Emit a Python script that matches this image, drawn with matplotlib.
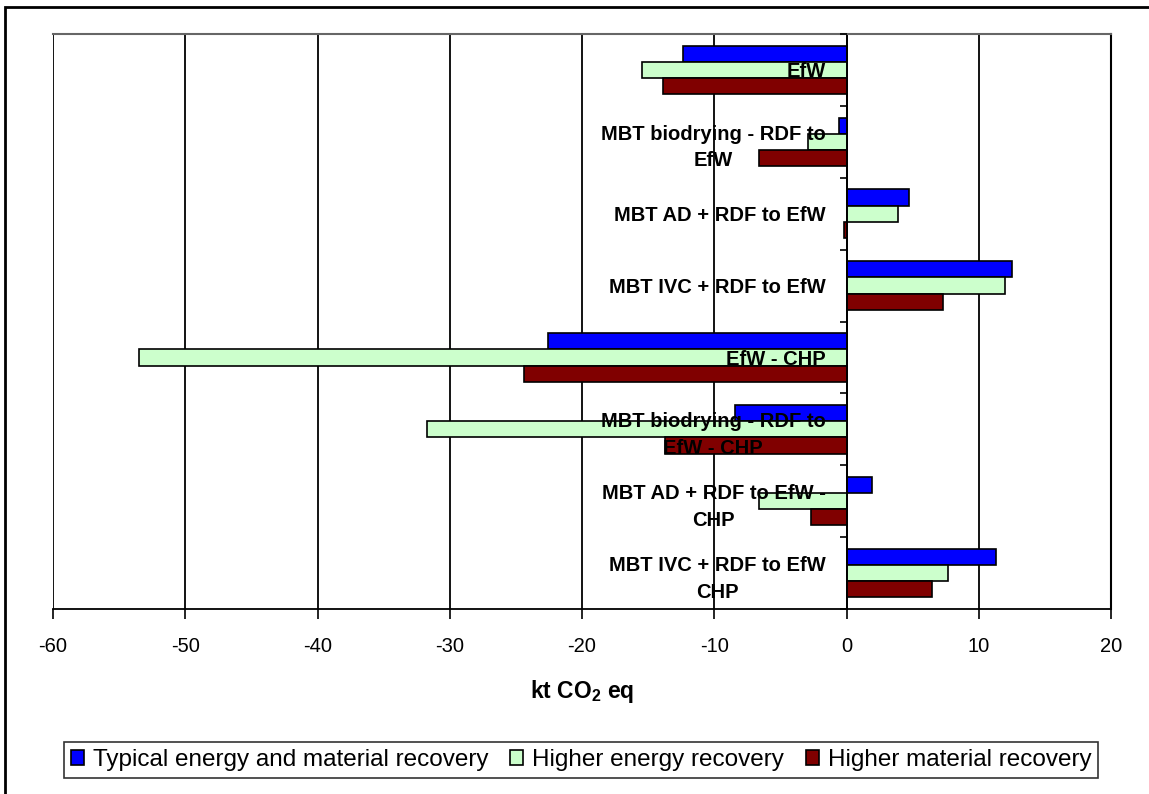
import matplotlib
matplotlib.use('Agg')
import matplotlib.pyplot as plt
import numpy as np
from matplotlib.patches import Rectangle

plt.rcParams['font.family'] = ['Liberation Sans', 'DejaVu Sans']
plt.rcParams['mathtext.fontset'] = 'custom'
plt.rcParams['mathtext.rm'] = 'Liberation Sans:bold'
plt.rcParams['mathtext.bf'] = 'Liberation Sans:bold'
plt.rcParams['axes.unicode_minus'] = False

categories = [
    "EfW",
    "MBT biodrying - RDF to\nEfW",
    "MBT AD + RDF to EfW",
    "MBT IVC + RDF to EfW",
    "EfW - CHP",
    "MBT biodrying - RDF to\nEfW - CHP",
    "MBT AD + RDF to EfW -\nCHP",
    "MBT IVC + RDF to EfW\nCHP",
]
typical = [-12.4, -0.6, 4.75, 12.5, -22.6, -8.4, 1.9, 11.3]
higher_energy = [-15.5, -2.9, 3.9, 12.0, -53.5, -31.7, -6.6, 7.7]
higher_material = [-13.9, -6.6, -0.2, 7.3, -24.4, -13.7, -2.7, 6.5]

series = [
    ("Typical energy and material recovery", typical, "#0000FF"),
    ("Higher energy recovery", higher_energy, "#CCFFCC"),
    ("Higher material recovery", higher_material, "#800000"),
]
xticks = list(range(-60, 21, 10))

fig = plt.figure(figsize=(11.49, 7.94), dpi=100)
ax = fig.add_axes([53 / 1149, 1 - 609 / 794, (1111 - 53) / 1149, (609 - 34) / 794])
ax.set_axisbelow(False)

y = np.arange(len(categories))
h = 0.225
for k, (name, vals, col) in enumerate(series):
    ax.barh(y + (k - 1) * h, vals, height=h, color=col, edgecolor='black',
            linewidth=1.2, label=name, zorder=2)

# vertical gridlines under the bars
for xv in xticks:
    ax.axvline(xv, color='black', linewidth=1.3, zorder=0.5)

ax.set_xlim(-60, 20)
ax.set_ylim(len(categories) - 0.5, -0.5)
ax.set_xticks(xticks)
ax.tick_params(axis='x', direction='out', length=7, width=1.2, pad=13,
               labelsize=14.5)

ax.spines['left'].set_position(('data', 0))
ax.spines['left'].set_linewidth(1.3)
ax.spines['right'].set_linewidth(1.5)
ax.spines['top'].set_color('#666666')
ax.spines['top'].set_linewidth(1.5)
ax.spines['bottom'].set_linewidth(1.3)

ax.set_yticks(y)
ax.set_yticklabels(categories, fontsize=14.5, fontweight='bold')
ax.set_yticks(np.arange(-0.5, len(categories)), minor=True)
ax.tick_params(axis='y', which='major', length=0, pad=15)
ax.tick_params(axis='y', which='minor', direction='out', length=5, width=1.2)
for lab in ax.get_yticklabels():
    lab.set_multialignment('center')
    lab.set_linespacing(1.5)

ax.set_xlabel(r"kt CO$_{2}$ eq", fontsize=16.5, fontweight='bold', labelpad=16)

leg = fig.legend(loc='center', bbox_to_anchor=(581 / 1149, 1 - 760 / 794),
                 ncol=3, fontsize=17.5, frameon=True, fancybox=False,
                 edgecolor='black', handlelength=0.55, handleheight=0.55,
                 handletextpad=0.35, columnspacing=0.9, borderpad=0.3,
                 borderaxespad=0)
leg.get_frame().set_linewidth(1.2)

fig.patches.append(Rectangle((5 / 1149, -0.05), 1.2, 1.05 - 7 / 794,
                             transform=fig.transFigure, fill=False,
                             edgecolor='black', linewidth=2))

fig.savefig("out.png", dpi=100)
